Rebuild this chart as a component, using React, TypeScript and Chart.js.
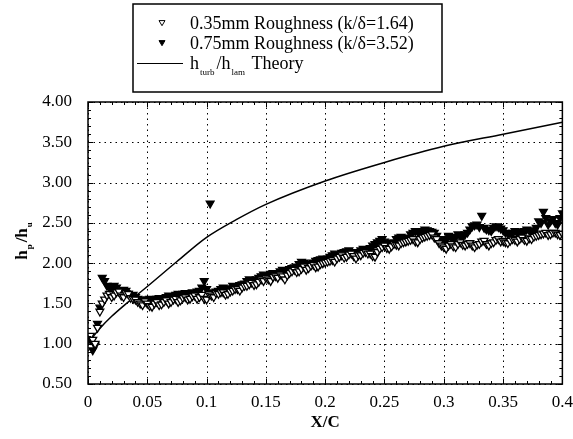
import React, { useEffect, useRef } from 'react';
import { Chart, registerables } from 'chart.js';
Chart.register(...registerables);

const roughX = [
0.002,0.004,0.006,0.008,0.010,0.012,0.014,0.016,0.018,0.020,
0.022,0.024,0.026,0.028,0.030,0.032,0.034,0.036,0.038,0.040,
0.042,0.044,0.046,0.048,0.050,0.052,0.054,0.056,0.058,0.060,
0.062,0.064,0.066,0.068,0.070,0.072,0.074,0.076,0.078,0.080,
0.082,0.084,0.086,0.088,0.090,0.092,0.094,0.096,0.098,0.100,
0.102,0.104,0.106,0.108,0.110,0.112,0.114,0.116,0.118,0.120,
0.122,0.124,0.126,0.128,0.130,0.132,0.134,0.136,0.138,0.140,
0.142,0.144,0.146,0.148,0.150,0.152,0.154,0.156,0.158,0.160,
0.162,0.164,0.166,0.168,0.170,0.172,0.174,0.176,0.178,0.180,
0.182,0.184,0.186,0.188,0.190,0.192,0.194,0.196,0.198,0.200,
0.202,0.204,0.206,0.208,0.210,0.212,0.214,0.216,0.218,0.220,
0.222,0.224,0.226,0.228,0.230,0.232,0.234,0.236,0.238,0.240,
0.242,0.244,0.246,0.248,0.250,0.252,0.254,0.256,0.258,0.260,
0.262,0.264,0.266,0.268,0.270,0.272,0.274,0.276,0.278,0.280,
0.282,0.284,0.286,0.288,0.290,0.292,0.294,0.296,0.298,0.300,
0.302,0.304,0.306,0.308,0.310,0.312,0.314,0.316,0.318,0.320,
0.322,0.324,0.326,0.328,0.330,0.332,0.334,0.336,0.338,0.340,
0.342,0.344,0.346,0.348,0.350,0.352,0.354,0.356,0.358,0.360,
0.362,0.364,0.366,0.368,0.370,0.372,0.374,0.376,0.378,0.380,
0.382,0.384,0.386,0.388,0.390,0.392,0.394,0.396,0.398,0.400];

const roughY35 = [
1.10,1.05,1.00,1.20,1.40,1.50,1.55,1.60,1.62,1.58,
1.60,1.64,1.65,1.60,1.58,1.63,1.62,1.57,1.56,1.55,
1.52,1.50,1.48,1.53,1.50,1.47,1.46,1.50,1.52,1.48,
1.49,1.52,1.54,1.50,1.52,1.55,1.56,1.52,1.54,1.57,
1.58,1.55,1.56,1.59,1.60,1.56,1.58,1.61,1.56,1.55,
1.62,1.60,1.58,1.63,1.62,1.64,1.64,1.61,1.62,1.65,
1.66,1.68,1.68,1.66,1.70,1.72,1.72,1.74,1.76,1.73,
1.74,1.77,1.80,1.78,1.82,1.80,1.78,1.83,1.84,1.82,
1.86,1.84,1.80,1.85,1.88,1.90,1.92,1.89,1.90,1.93,
1.96,1.92,1.94,1.97,1.98,1.95,1.96,1.99,2.00,2.01,
2.02,2.03,2.04,2.02,2.06,2.08,2.10,2.07,2.08,2.11,
2.12,2.09,2.06,2.10,2.10,2.13,2.14,2.12,2.12,2.09,
2.08,2.14,2.18,2.20,2.22,2.19,2.18,2.21,2.24,2.23,
2.22,2.25,2.26,2.27,2.28,2.29,2.30,2.27,2.26,2.30,
2.32,2.33,2.34,2.35,2.36,2.32,2.30,2.25,2.22,2.20,
2.18,2.22,2.24,2.21,2.20,2.24,2.26,2.23,2.22,2.24,
2.25,2.22,2.20,2.23,2.24,2.27,2.28,2.24,2.22,2.25,
2.26,2.29,2.30,2.27,2.28,2.26,2.25,2.28,2.30,2.29,
2.27,2.30,2.32,2.29,2.28,2.31,2.30,2.33,2.34,2.35,
2.36,2.37,2.38,2.35,2.36,2.38,2.38,2.36,2.35,2.37];

const roughY75 = [
1.05,0.92,0.98,1.25,1.45,1.82,1.78,1.72,1.70,1.68,
1.72,1.70,1.66,1.64,1.67,1.66,1.62,1.60,1.61,1.58,
1.56,1.55,1.54,1.52,1.55,1.56,1.53,1.54,1.56,1.57,
1.55,1.56,1.58,1.60,1.58,1.59,1.61,1.62,1.60,1.62,
1.63,1.62,1.61,1.64,1.62,1.65,1.66,1.70,1.78,1.68,
1.64,1.62,1.63,1.65,1.66,1.68,1.70,1.68,1.67,1.69,
1.72,1.71,1.70,1.73,1.74,1.75,1.78,1.80,1.79,1.78,
1.80,1.82,1.84,1.86,1.85,1.84,1.87,1.88,1.87,1.86,
1.90,1.92,1.91,1.90,1.93,1.94,1.95,1.96,1.99,2.02,
2.01,2.00,1.99,1.98,2.01,2.03,2.04,2.05,2.06,2.04,
2.06,2.08,2.10,2.12,2.11,2.10,2.13,2.14,2.15,2.16,
2.14,2.12,2.13,2.14,2.16,2.18,2.17,2.16,2.19,2.22,
2.24,2.26,2.28,2.30,2.27,2.25,2.23,2.22,2.26,2.30,
2.32,2.33,2.30,2.28,2.32,2.36,2.38,2.40,2.39,2.37,
2.40,2.42,2.41,2.40,2.39,2.38,2.34,2.30,2.28,2.26,
2.30,2.34,2.32,2.30,2.33,2.36,2.34,2.33,2.36,2.38,
2.42,2.46,2.47,2.48,2.45,2.59,2.44,2.42,2.41,2.40,
2.44,2.46,2.45,2.43,2.41,2.38,2.37,2.36,2.38,2.40,
2.38,2.36,2.39,2.40,2.42,2.41,2.40,2.38,2.44,2.52,
2.50,2.64,2.56,2.48,2.52,2.55,2.50,2.48,2.56,2.62];

const outlierX = [0.103];
const outlierY = [2.74];

const theoryX = [0.0,0.005,0.01,0.02,0.03,0.04,0.05,0.075,0.1,0.125,0.15,0.2,0.25,0.3,0.35,0.4];
const theoryY = [1.0,1.1,1.19,1.34,1.47,1.59,1.71,2.02,2.32,2.54,2.73,3.02,3.25,3.45,3.6,3.75];

const xTicks = [0, 0.05, 0.1, 0.15, 0.2, 0.25, 0.3, 0.35, 0.4];
const xTickLabels = ['0', '0.05', '0.1', '0.15', '0.2', '0.25', '0.3', '0.35', '0.4'];
const yTicks = [0.5, 1.0, 1.5, 2.0, 2.5, 3.0, 3.5, 4.0];
const yTickLabels = ['0.50', '1.00', '1.50', '2.00', '2.50', '3.00', '3.50', '4.00'];

const legend35 = '0.35mm Roughness (k/\u03b4=1.64)';
const legend75 = '0.75mm Roughness (k/\u03b4=3.52)';

const SERIF = '"Liberation Serif", "Times New Roman", serif';

function tri(ctx: CanvasRenderingContext2D, x: number, y: number, r: number, fill: boolean) {
  ctx.beginPath();
  ctx.moveTo(x - r, y - r * 0.8);
  ctx.lineTo(x + r, y - r * 0.8);
  ctx.lineTo(x, y + r * 0.9);
  ctx.closePath();
  ctx.fillStyle = fill ? '#000' : '#fff';
  ctx.fill();
  ctx.strokeStyle = '#000';
  ctx.lineWidth = 1;
  ctx.stroke();
}

const decorPlugin = {
  id: 'decor',
  beforeDatasetsDraw(chart: any) {
    const { ctx, chartArea: a, scales } = chart;
    ctx.save();
    ctx.strokeStyle = '#000';
    ctx.lineWidth = 1;
    ctx.setLineDash([1.5, 4]);
    xTicks.forEach((v) => {
      const px = Math.round(scales.x.getPixelForValue(v)) + 0.5;
      ctx.beginPath(); ctx.moveTo(px, a.top); ctx.lineTo(px, a.bottom); ctx.stroke();
    });
    yTicks.forEach((v) => {
      const py = Math.round(scales.y.getPixelForValue(v)) + 0.5;
      ctx.beginPath(); ctx.moveTo(a.left, py); ctx.lineTo(a.right, py); ctx.stroke();
    });
    ctx.restore();
  },
  afterDraw(chart: any) {
    const { ctx, chartArea: a, scales } = chart;
    ctx.save();
    ctx.strokeStyle = '#000';
    ctx.setLineDash([]);
    ctx.lineWidth = 1.5;
    ctx.strokeRect(a.left, a.top, a.right - a.left, a.bottom - a.top);
    ctx.lineWidth = 1;
    for (let i = 0; i <= 40; i++) {
      const v = i * 0.01;
      const px = Math.round(scales.x.getPixelForValue(v)) + 0.5;
      const len = i % 5 === 0 ? 5 : 3;
      ctx.beginPath();
      ctx.moveTo(px, a.bottom); ctx.lineTo(px, a.bottom - len);
      ctx.moveTo(px, a.top); ctx.lineTo(px, a.top + len);
      ctx.stroke();
    }
    for (let i = 5; i <= 40; i++) {
      const v = i * 0.1;
      const py = Math.round(scales.y.getPixelForValue(v)) + 0.5;
      const len = i % 5 === 0 ? 5 : 3;
      ctx.beginPath();
      ctx.moveTo(a.left, py); ctx.lineTo(a.left + len, py);
      ctx.moveTo(a.right, py); ctx.lineTo(a.right - len, py);
      ctx.stroke();
    }
    ctx.fillStyle = '#000';
    ctx.font = `bold 17px ${SERIF}`;
    ctx.textAlign = 'center';
    ctx.textBaseline = 'middle';
    ctx.fillText('X/C', (a.left + a.right) / 2, 423);
    ctx.save();
    ctx.translate(22, 240);
    ctx.rotate(-Math.PI / 2);
    ctx.textAlign = 'left';
    ctx.textBaseline = 'alphabetic';
    const big = `bold 17px ${SERIF}`;
    const small = `bold 9px ${SERIF}`;
    const parts: [string, boolean][] = [['h', false], ['p', true], ['/h', false], ['u', true]];
    let total = 0;
    parts.forEach(([t, s]) => { ctx.font = s ? small : big; total += ctx.measureText(t).width + (s ? 3 : 0); });
    let cx = -total / 2;
    parts.forEach(([t, s]) => {
      ctx.font = s ? small : big;
      ctx.fillText(t, cx + (s ? 1 : 0), s ? 10 : 5);
      cx += ctx.measureText(t).width + (s ? 3 : 0);
    });
    ctx.restore();
    ctx.lineWidth = 1.5;
    ctx.strokeRect(133, 4, 309, 88);
    tri(ctx, 162, 23, 3, false);
    tri(ctx, 162, 43, 3, true);
    ctx.lineWidth = 1;
    ctx.beginPath(); ctx.moveTo(137, 63.5); ctx.lineTo(183, 63.5); ctx.stroke();
    ctx.fillStyle = '#000';
    ctx.font = `18px ${SERIF}`;
    ctx.textAlign = 'left';
    ctx.textBaseline = 'middle';
    ctx.fillText(legend35, 190, 24);
    ctx.fillText(legend75, 190, 44);
    ctx.textBaseline = 'alphabetic';
    let lx = 190;
    const rowParts: [string, boolean][] = [['h', false], ['turb', true], ['/h', false], ['lam', true], [' Theory', false]];
    rowParts.forEach(([t, s]) => {
      ctx.font = s ? `9px ${SERIF}` : `18px ${SERIF}`;
      ctx.fillText(t, lx + (s ? 1 : 0), s ? 75 : 69);
      lx += ctx.measureText(t).width + (s ? 3 : 0);
    });
    ctx.restore();
  },
};

export default function App() {
  const ref = useRef<HTMLCanvasElement>(null);
  useEffect(() => {
    const canvas = ref.current!;
    const filled = roughX.map((x, i) => ({ x, y: roughY75[i] }));
    outlierX.forEach((x, i) => filled.push({ x, y: outlierY[i] }));
    const chart = new Chart(canvas, {
      type: 'scatter',
      data: {
        datasets: [
          {
            label: legend35,
            data: roughX.map((x, i) => ({ x, y: roughY35[i] })),
            pointStyle: 'triangle',
            rotation: 180,
            pointRadius: 4.5,
            backgroundColor: '#fff',
            borderColor: '#000',
            borderWidth: 1.3,
            showLine: false,
          },
          {
            label: legend75,
            data: filled,
            pointStyle: 'triangle',
            rotation: 180,
            pointRadius: 4.5,
            backgroundColor: '#000',
            borderColor: '#000',
            borderWidth: 1.3,
            showLine: false,
          },
          {
            label: 'h_turb/h_lam Theory',
            data: theoryX.map((x, i) => ({ x, y: theoryY[i] })),
            showLine: true,
            pointRadius: 0,
            borderColor: '#000',
            borderWidth: 1.5,
            cubicInterpolationMode: 'monotone',
            fill: false,
          },
        ],
      } as any,
      options: {
        responsive: false,
        animation: false,
        layout: { padding: { top: 102, right: 10, left: 0, bottom: 0 } },
        plugins: { legend: { display: false }, tooltip: { enabled: false } },
        scales: {
          x: {
            type: 'linear',
            min: 0,
            max: 0.4,
            afterBuildTicks: (s: any) => { s.ticks = xTicks.map((v) => ({ value: v })); },
            afterFit: (s: any) => { s.height = 55; },
            grid: { display: false },
            border: { display: false },
            ticks: {
              autoSkip: false,
              maxRotation: 0,
              padding: 0,
              color: '#000',
              font: { family: SERIF, size: 17 },
              callback: (v: any) => { const i = xTicks.findIndex((t) => Math.abs(t - v) < 1e-9); return i >= 0 ? xTickLabels[i] : ''; },
            },
          },
          y: {
            type: 'linear',
            min: 0.5,
            max: 4.0,
            afterBuildTicks: (s: any) => { s.ticks = yTicks.map((v) => ({ value: v })); },
            afterFit: (s: any) => { s.width = 88; },
            grid: { display: false },
            border: { display: false },
            ticks: {
              autoSkip: false,
              padding: 8,
              color: '#000',
              font: { family: SERIF, size: 17 },
              callback: (v: any) => { const i = yTicks.findIndex((t) => Math.abs(t - v) < 1e-9); return i >= 0 ? yTickLabels[i] : ''; },
            },
          },
        },
      } as any,
      plugins: [decorPlugin],
    });
    return () => chart.destroy();
  }, []);
  return (
    <div style={{ position: 'absolute', left: 0, top: 0, width: 573, height: 439, background: '#fff' }}>
      <canvas ref={ref} width={573} height={439} style={{ display: 'block' }} />
    </div>
  );
}
